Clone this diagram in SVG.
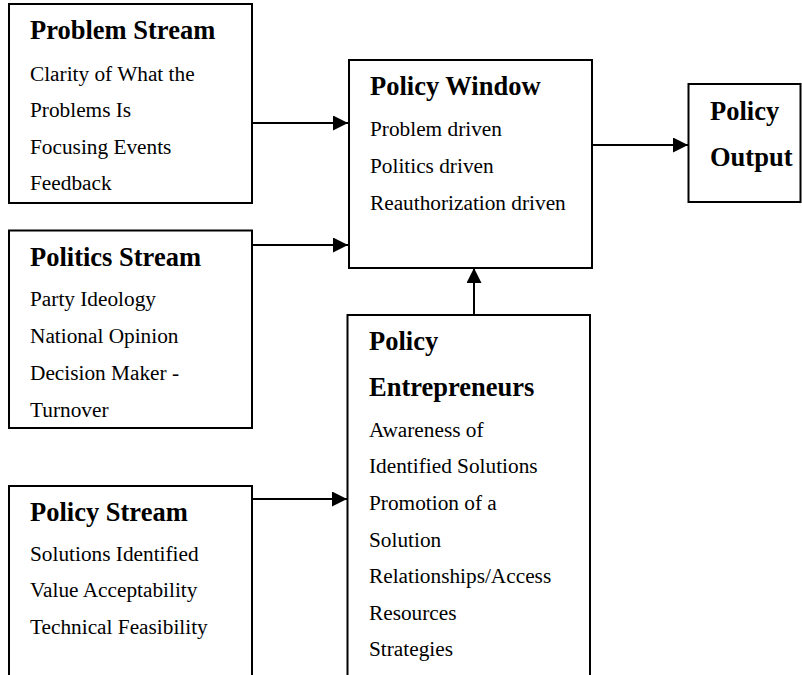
<svg xmlns="http://www.w3.org/2000/svg" width="802" height="675" viewBox="0 0 802 675">
<style>
.box{fill:#fff;stroke:#000;stroke-width:2}
.t{font-family:"Liberation Serif","Times New Roman",serif;font-weight:bold;font-size:26.5px;fill:#000}
.b{font-family:"Liberation Serif","Times New Roman",serif;font-size:21.3px;fill:#000}
.c{stroke:#000;stroke-width:2;fill:none}
</style>
<defs>
<marker id="ah" viewBox="0 0 15 15" refX="15" refY="7.5" markerWidth="15" markerHeight="15" markerUnits="userSpaceOnUse" orient="auto">
<path d="M0,0 L15,7.5 L0,15 z" fill="#000"/>
</marker>
</defs>
<rect width="802" height="675" fill="#fff"/>
<g id="connectors">
<line class="c" x1="252" y1="123" x2="348" y2="123" marker-end="url(#ah)"/>
<line class="c" x1="252" y1="245" x2="348" y2="245" marker-end="url(#ah)"/>
<line class="c" x1="252" y1="499" x2="347" y2="499" marker-end="url(#ah)"/>
<line class="c" x1="474" y1="315" x2="474" y2="268" marker-end="url(#ah)"/>
<line class="c" x1="592" y1="145" x2="688" y2="145" marker-end="url(#ah)"/>
</g>
<g id="problem-stream">
<rect class="box" x="9" y="4" width="243" height="199"/>
<text class="t" x="30" y="39">Problem Stream</text>
<text class="b" x="30" y="80.5">Clarity of What the</text>
<text class="b" x="30" y="117">Problems Is</text>
<text class="b" x="30" y="153.5">Focusing Events</text>
<text class="b" x="30" y="190">Feedback</text>
</g>
<g id="politics-stream">
<rect class="box" x="9" y="230.5" width="243" height="197.5"/>
<text class="t" x="30" y="266">Politics Stream</text>
<text class="b" x="30" y="305.5">Party Ideology</text>
<text class="b" x="30" y="342.5">National Opinion</text>
<text class="b" x="30" y="379.5">Decision Maker -</text>
<text class="b" x="30" y="416.5">Turnover</text>
</g>
<g id="policy-stream">
<rect class="box" x="9" y="486" width="243" height="200"/>
<text class="t" x="30" y="521">Policy Stream</text>
<text class="b" x="30" y="560.5">Solutions Identified</text>
<text class="b" x="30" y="597">Value Acceptability</text>
<text class="b" x="30" y="633.5">Technical Feasibility</text>
</g>
<g id="policy-window">
<rect class="box" x="349" y="60" width="243" height="208"/>
<text class="t" x="370" y="95">Policy Window</text>
<text class="b" x="370" y="136">Problem driven</text>
<text class="b" x="370" y="173">Politics driven</text>
<text class="b" x="370" y="210">Reauthorization driven</text>
</g>
<g id="policy-output">
<rect class="box" x="688.5" y="84" width="112" height="118"/>
<text class="t" x="710" y="120">Policy</text>
<text class="t" x="710" y="166">Output</text>
</g>
<g id="policy-entrepreneurs">
<rect class="box" x="347.5" y="315" width="242.5" height="375"/>
<text class="t" x="369" y="350">Policy</text>
<text class="t" x="369" y="396">Entrepreneurs</text>
<text class="b" x="369" y="436.5">Awareness of</text>
<text class="b" x="369" y="473">Identified Solutions</text>
<text class="b" x="369" y="510">Promotion of a</text>
<text class="b" x="369" y="546.5">Solution</text>
<text class="b" x="369" y="583">Relationships/Access</text>
<text class="b" x="369" y="620">Resources</text>
<text class="b" x="369" y="656">Strategies</text>
</g>
</svg>
